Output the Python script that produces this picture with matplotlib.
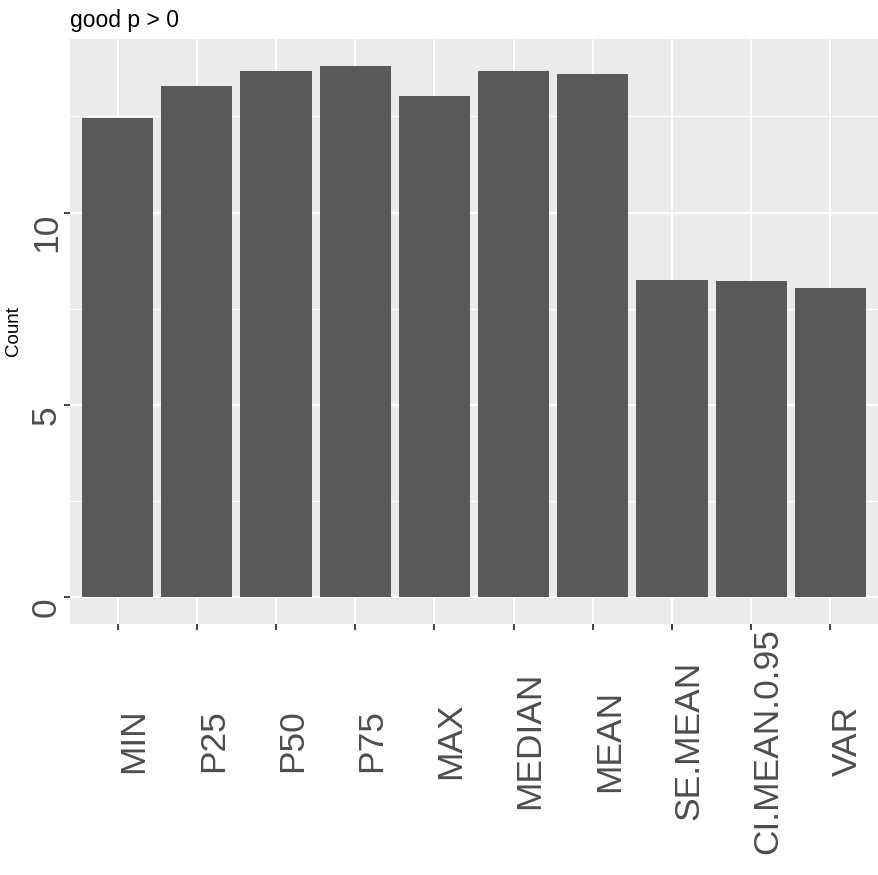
import matplotlib
matplotlib.use("Agg")
import matplotlib.pyplot as plt
import numpy as np
from matplotlib.ticker import MultipleLocator

# 数据
categories = ["MIN", "P25", "P50", "P75", "MAX", "MEDIAN", "MEAN",
              "SE.MEAN", "CI.MEAN.0.95", "VAR"]
counts = [12.47, 13.30, 13.69, 13.82, 13.04, 13.69, 13.61, 8.25, 8.22, 8.04]
y_ticks = [0, 5, 10]
y_ticklabels = ["0", "5", "10"]
title = "good p > 0"
y_label = "Count"

plt.rcParams["font.family"] = ["Liberation Sans", "DejaVu Sans"]

fig = plt.figure(figsize=(8.79, 8.75), dpi=100)
ax = fig.add_axes([70 / 879, 1 - 624 / 875, 808 / 879, 585 / 875])

# ggplot 风格背景和网格
ax.set_facecolor("#EBEBEB")
for spine in ax.spines.values():
    spine.set_visible(False)

x = np.arange(len(categories))
ax.bar(x, counts, width=0.9, color="#595959", zorder=3)

ymax = max(counts)
ax.set_xlim(-0.6, len(categories) - 0.4)
ax.set_ylim(-0.05 * ymax, 1.05 * ymax)

ax.set_xticks(x)
ax.set_xticklabels(categories, rotation=90, fontsize=25.5, color="#4D4D4D")
for lab in ax.get_xticklabels():
    lab.set_va("center")
    lab.set_ha("left")
ax.tick_params(axis="x", length=4, width=1.3, color="#333333", pad=80)

ax.set_yticks(y_ticks)
ax.set_yticklabels(y_ticklabels, rotation=90, fontsize=25.5, color="#4D4D4D")
for lab in ax.get_yticklabels():
    lab.set_va("top")
    lab.set_ha("right")
ax.tick_params(axis="y", length=4, width=1.3, color="#333333", pad=1)
ax.yaxis.set_minor_locator(MultipleLocator(2.5))
ax.tick_params(axis="y", which="minor", length=0)

ax.grid(which="major", color="white", linewidth=1.5, zorder=0)
ax.grid(which="minor", axis="y", color="white", linewidth=0.7, zorder=0)
ax.set_axisbelow(True)

# 轴标题和图标题
fig.text(14 / 879, 1 - 331 / 875, y_label, fontsize=13.5, color="black",
         rotation=90, ha="center", va="center")
fig.text(70 / 879, 1 - 27 / 875, title, fontsize=16.5, color="black",
         ha="left", va="baseline")

fig.savefig("out.png", dpi=100)
